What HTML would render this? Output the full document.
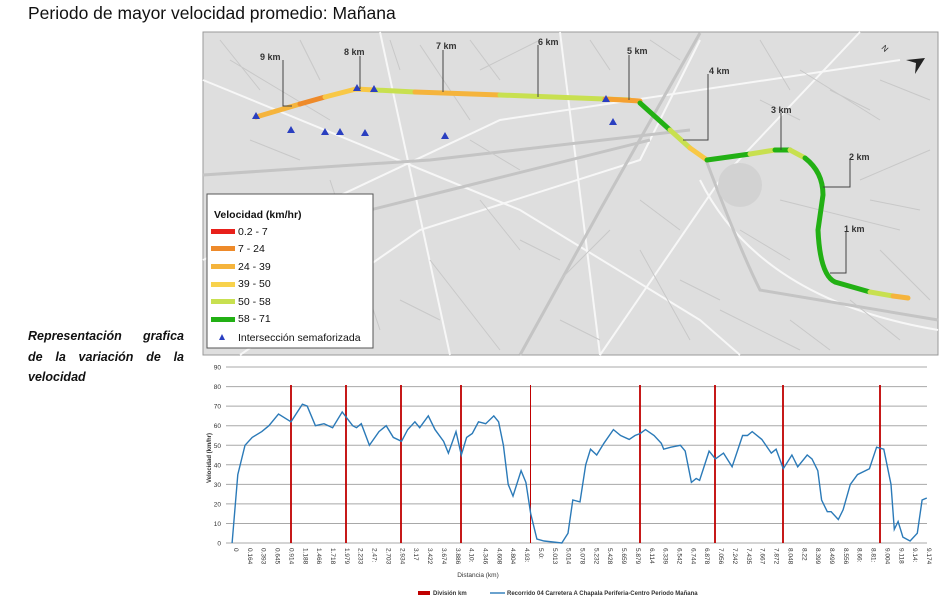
<!DOCTYPE html>
<html><head><meta charset="utf-8"><style>
body{margin:0;width:950px;height:608px;background:#fff;position:relative;overflow:hidden;font-family:"Liberation Sans",sans-serif}
.t{position:absolute;left:28px;top:3px;font-size:17.5px;color:#111}
.d{position:absolute;left:28px;top:326px;width:156px;font-size:12.5px;font-weight:bold;font-style:italic;line-height:20.5px;text-align:justify;text-align-last:left;color:#111}
svg{position:absolute;left:0;top:0}
</style></head><body>
<div class="t">Periodo de mayor velocidad promedio: Mañana</div>
<div class="d">Representación grafica de la variación de la velocidad</div>
<svg width="950" height="608" xmlns="http://www.w3.org/2000/svg" font-family="Liberation Sans, sans-serif">
<rect x="203" y="32" width="735" height="323" fill="#dedede" stroke="#999"/>
<g stroke="#f7f7f7" stroke-width="2" fill="none">
<path d="M203 80 L520 210 L700 320 L740 355"/>
<path d="M240 355 L420 230 L640 160 L700 40"/>
<path d="M600 355 L720 180 L860 32"/>
<path d="M203 260 L500 120 L900 60"/>
<path d="M700 180 Q760 300 938 330"/>
<path d="M560 32 L600 355"/><path d="M380 32 L450 355"/>
</g>
<g stroke="#c4c4c4" stroke-width="3" fill="none">
<path d="M203 175 L430 160 L690 130"/><path d="M250 240 L450 190 L650 140"/>
<path d="M700 33 L600 210 L520 355"/>
<path d="M706 160 Q740 250 760 290 L938 320"/>
</g>
<g stroke="#c8c8c8" stroke-width="1">
<path d="M230 60 L330 120 M420 45 L470 120 M480 70 L540 40 M250 300 L330 260 M430 260 L500 350 M780 200 L900 230 M800 70 L880 120 M860 180 L930 150 M640 250 L690 340 M560 280 L610 230 M720 310 L800 350 M330 180 L380 330 M880 250 L930 300 M220 40 L260 90 M300 40 L320 80 M390 40 L400 70 M470 40 L500 80 M590 40 L610 70 M650 40 L680 60 M760 40 L790 90 M830 90 L870 110 M880 80 L930 100 M760 100 L800 120 M870 200 L920 210 M850 300 L900 340 M480 200 L520 250 M520 240 L560 260 M640 200 L680 230 M740 230 L790 260 M680 280 L720 300 M790 320 L830 350 M560 320 L600 340 M400 300 L440 320 M250 140 L300 160 M470 140 L520 170"/>
</g>
<circle cx="740" cy="185" r="22" fill="#d2d2d2"/>
<g stroke-width="5" fill="none" stroke-linecap="round">
<path d="M256 117 L300 104" stroke="#f5b43c"/>
<path d="M300 104 L325 97" stroke="#ee8a2a"/>
<path d="M325 97 L356 89 L375 90" stroke="#f8c846"/>
<path d="M375 90 L415 92" stroke="#c8e050"/>
<path d="M415 92 L500 95" stroke="#f5b43c"/>
<path d="M500 95 L630 100" stroke="#c8e050"/>
<path d="M605 99 L640 101" stroke="#f5a030"/>
<path d="M640 103 L670 130" stroke="#22b014"/>
<path d="M670 130 L690 148" stroke="#c8e050"/>
<path d="M690 148 L707 160" stroke="#f8c846"/>
<path d="M707 160 L750 154" stroke="#22b014"/>
<path d="M750 154 L775 150" stroke="#c8e050"/>
<path d="M775 150 L790 150" stroke="#22b014"/>
<path d="M790 150 L805 158" stroke="#c8e050"/>
<path d="M805 158 Q823 172 823 195 L818 230 Q820 275 835 282 L870 292" stroke="#22b014"/>
<path d="M870 292 L893 296" stroke="#c8e050"/>
<path d="M893 296 L908 298" stroke="#f5b43c"/>
</g>
<g fill="#2a3fc0">
<path d="M256 112 l-4 7 h8z M357 84 l-4 7 h8z M374 85 l-4 7 h8z M291 126 l-4 7 h8z M325 128 l-4 7 h8z M340 128 l-4 7 h8z M365 129 l-4 7 h8z M445 132 l-4 7 h8z M606 95 l-4 7 h8z M613 118 l-4 7 h8z"/>
</g>
<g stroke="#444" stroke-width="1" fill="none">
<path d="M283 60 V106 H292"/><path d="M360 56 V89"/><path d="M443 50 V92"/><path d="M538 45 V97"/><path d="M629 55 V100"/>
<path d="M708 74 V140 H683"/><path d="M781 113 V150"/><path d="M850 160 V187 H823"/><path d="M846 232 V273 H830"/>
</g>
<g font-size="9" font-weight="bold" fill="#333">
<text x="260" y="60">9 km</text><text x="344" y="55">8 km</text><text x="436" y="49">7 km</text><text x="538" y="45">6 km</text><text x="627" y="54">5 km</text><text x="709" y="74">4 km</text><text x="771" y="113">3 km</text><text x="849" y="160">2 km</text><text x="844" y="232">1 km</text>
</g>
<path d="M906 60 L925 58 L915 74 L916 63z" fill="#222"/>
<text x="882" y="52" font-size="8" fill="#222" transform="rotate(45 886 49)">N</text>
<rect x="207" y="194" width="166" height="154" fill="#fff" stroke="#555"/>
<text x="214" y="218" font-size="10.5" font-weight="bold" fill="#111">Velocidad (km/hr)</text>
<g font-size="10.5" fill="#111">
<rect x="211" y="229" width="24" height="5" fill="#e8201a"/><text x="238" y="235">0.2 - 7</text>
<rect x="211" y="246" width="24" height="5" fill="#ee8a2a"/><text x="238" y="252">7 - 24</text>
<rect x="211" y="264" width="24" height="5" fill="#f5b43c"/><text x="238" y="270">24 - 39</text>
<rect x="211" y="282" width="24" height="5" fill="#f8d24c"/><text x="238" y="287">39 - 50</text>
<rect x="211" y="299" width="24" height="5" fill="#c8e050"/><text x="238" y="305">50 - 58</text>
<rect x="211" y="317" width="24" height="5" fill="#22b014"/><text x="238" y="322">58 - 71</text>
<path d="M222 334 l-3 6 h6z" fill="#2a3fc0"/><text x="238" y="341">Intersección semaforizada</text>
</g>
<g id="grid" stroke="#a8a8a8" stroke-width="1"></g>
<g id="yl" font-size="6.5" fill="#333" text-anchor="end"></g>
<g id="xl" font-size="6.5" fill="#333"></g>
<g stroke="#c00000" stroke-width="1.8">
<path d="M291 385 V543 M346 385 V543 M401 385 V543 M461 385 V543 M640 385 V543 M715 385 V543 M783 385 V543 M880 385 V543"/>
<path d="M530.5 385 V543" stroke-width="1"/>
</g>
<path id="ln" fill="none" stroke="#2b7ab8" stroke-width="1.4"/>
<text x="211" y="458" font-size="6" font-weight="bold" fill="#333" text-anchor="middle" transform="rotate(-90 211 458)">Velocidad (km/hr)</text>
<text x="478" y="577" font-size="6.5" fill="#333" text-anchor="middle">Distancia (km)</text>
<rect x="418" y="591" width="12" height="4" fill="#c00000"/>
<text x="433" y="595" font-size="6" font-weight="bold" fill="#333">División km</text>
<path d="M490 593 H505" stroke="#2b7ab8" stroke-width="1.4"/>
<text x="507" y="595" font-size="6" font-weight="bold" fill="#333">Recorrido 04 Carretera A Chapala Periferia-Centro Periodo Mañana</text>
</svg>
<script>
var ns="http://www.w3.org/2000/svg";
function Y(v){return 543-v*1.955;}
var g=document.getElementById('grid'),yl=document.getElementById('yl');
for(var v=0;v<=90;v+=10){var l=document.createElementNS(ns,'line');l.setAttribute('x1',226);l.setAttribute('x2',927);l.setAttribute('y1',Y(v));l.setAttribute('y2',Y(v));g.appendChild(l);
var t=document.createElementNS(ns,'text');t.setAttribute('x',221);t.setAttribute('y',Y(v)+2.5);t.textContent=v;yl.appendChild(t);}
var labs="0,0.164,0.393,0.645,0.914,1.188,1.466,1.718,1.979,2.233,2.47:,2.703,2.934,3.17,3.422,3.674,3.886,4.10:,4.346,4.608,4.804,4.93:,5.0:,5.013,5.014,5.078,5.232,5.428,5.659,5.879,6.114,6.339,6.542,6.744,6.878,7.056,7.242,7.435,7.667,7.872,8.048,8.22,8.399,8.499,8.556,8.66:,8.81:,9.004,9.118,9.14:,9.174".split(',');
var xl=document.getElementById('xl');
for(var i=0;i<labs.length;i++){var x=232+i*13.86;var t=document.createElementNS(ns,'text');t.setAttribute('x',x+2);t.setAttribute('y',548);t.setAttribute('transform','rotate(90 '+(x+2)+' 548)');t.textContent=labs[i];xl.appendChild(t);}
var p=[88,0,100,35,115,50,130,54,150,57,165,60,185,66,211,62,235,71,245,70,262,60,280,61,298,59,318,67,340,60,348,59,358,61,375,50,395,57,410,60,425,54,442,52,455,58,470,62,480,59,498,65,512,58,530,52,540,46,556,57,567,45,578,54,590,56,603,62,618,61,635,65,645,62,655,50,665,30,675,24,692,37,702,31,712,15,725,2,740,1,777,0,790,5,800,22,815,21,827,40,837,48,850,45,865,51,885,58,900,55,918,53,930,55,941,56,952,58,970,55,985,51,990,48,1005,49,1025,50,1035,47,1048,31,1058,33,1065,32,1085,47,1098,43,1115,46,1133,39,1155,55,1165,55,1175,57,1195,53,1215,46,1225,48,1240,38,1258,45,1270,39,1290,45,1300,43,1312,37,1320,22,1332,16,1340,16,1355,12,1365,17,1380,30,1395,35,1420,38,1435,49,1450,48,1465,30,1472,7,1480,11,1490,3,1505,1,1520,5,1530,22,1540,23];
var d="";for(var i=0;i<p.length;i+=2){d+=(i?"L":"M")+(p[i]/2.09+190).toFixed(1)+" "+Y(p[i+1]).toFixed(1);}
document.getElementById('ln').setAttribute('d',d);
</script>
</body></html>
